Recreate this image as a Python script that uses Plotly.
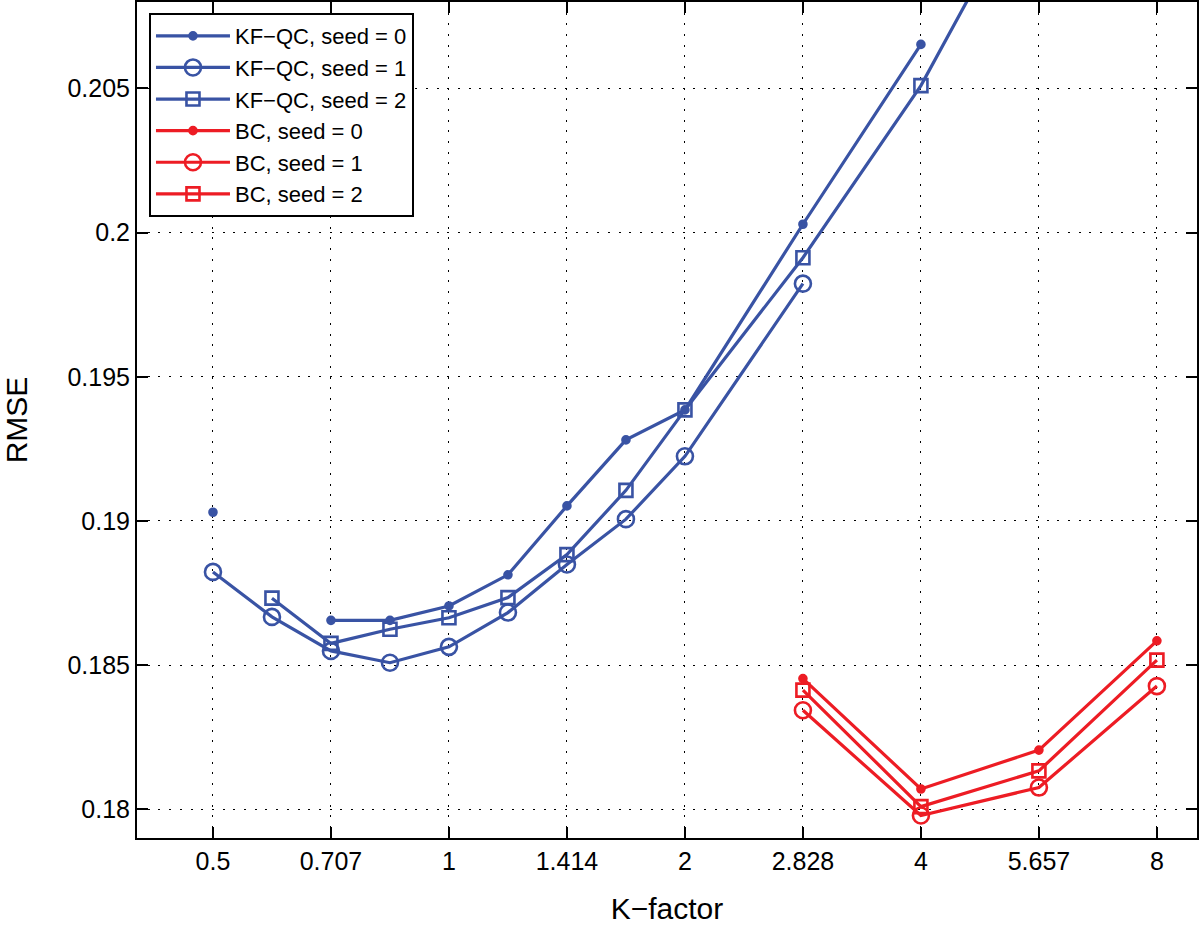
import plotly.graph_objs as go
import math

# K-factor values (half-octave steps)
k_factor = [0.5, 0.5946, 0.7071, 0.8409, 1.0, 1.1892, 1.4142, 1.6818, 2.0,
            2.8284, 4.0, 5.6569, 8.0]

x_tickvals = [0.5, 0.7071, 1.0, 1.4142, 2.0, 2.8284, 4.0, 5.6569, 8.0]
x_ticktext = ['0.5', '0.707', '1', '1.414', '2', '2.828', '4', '5.657', '8']
y_tickvals = [0.18, 0.185, 0.19, 0.195, 0.2, 0.205]
y_ticktext = ['0.18', '0.185', '0.19', '0.195', '0.2', '0.205']

# KF-QC results
kf_seed0 = [0.1903, None, 0.18655, 0.18655, 0.18705, 0.18813, 0.19052, 0.19281,
            0.19385, 0.20029, 0.20653, None, None]
kf_seed1 = [0.18823, 0.18667, 0.18549, 0.18508, 0.18563, 0.18682, 0.18849, 0.19006,
            0.19224, 0.19823, None, None, None]
kf_seed2 = [None, 0.18732, 0.18575, 0.18624, 0.18664, 0.18734, 0.18883, 0.19106,
            0.19385, 0.19913, 0.2051, 0.2126, None]

# BC results
bc_seed0 = [None] * 9 + [0.18453, 0.18070, 0.18205, 0.18584]
bc_seed1 = [None] * 9 + [0.18343, 0.17978, 0.18075, 0.18427]
bc_seed2 = [None] * 9 + [0.18413, 0.18009, 0.18133, 0.18517]

blue = '#3953A4'
red = '#ED1C24'

markers = {
    0: dict(symbol='circle', size=7),
    1: dict(symbol='circle-open', size=16),
    2: dict(symbol='square-open', size=13),
}


def make_trace(y, name, color, seed):
    m = dict(markers[seed])
    m['color'] = color
    m['line'] = dict(width=2.6, color=color)
    return go.Scatter(x=k_factor, y=y, name=name, mode='lines+markers',
                      line=dict(color=color, width=3.2), marker=m,
                      connectgaps=False)


data = [make_trace(kf_seed0, 'KF\u2212QC, seed = 0', blue, 0),
        make_trace(kf_seed1, 'KF\u2212QC, seed = 1', blue, 1),
        make_trace(kf_seed2, 'KF\u2212QC, seed = 2', blue, 2),
        make_trace(bc_seed0, 'BC, seed = 0', red, 0),
        make_trace(bc_seed1, 'BC, seed = 1', red, 1),
        make_trace(bc_seed2, 'BC, seed = 2', red, 2)]

axis_style = dict(showline=True, linecolor='black', linewidth=2, mirror='ticks',
                  ticks='inside', ticklen=11, tickwidth=2, tickcolor='black',
                  showgrid=True, gridcolor='black', gridwidth=1.4,
                  griddash='2px,8.7px', zeroline=False, automargin=False,
                  tickfont=dict(size=25, color='black'))

layout = go.Layout(
    width=1200, height=935,
    margin=dict(l=137, r=3, t=2, b=97),
    paper_bgcolor='white', plot_bgcolor='white',
    font=dict(family='Liberation Sans, Arial, sans-serif', color='black'),
    xaxis=dict(type='log', range=[math.log10(0.4), math.log10(9)],
               tickvals=x_tickvals, ticktext=x_ticktext,
               title=dict(text='K\u2212factor', font=dict(size=30), standoff=24),
               **axis_style),
    yaxis=dict(range=[0.179, 0.208], tickvals=y_tickvals, ticktext=y_ticktext,
               title=dict(text='RMSE', font=dict(size=30), standoff=40),
               **axis_style),
    legend=dict(x=0.0113, y=0.9868, xanchor='left', yanchor='top',
                bgcolor='white', bordercolor='black', borderwidth=2,
                font=dict(size=22, color='black'), itemwidth=74,
                tracegroupgap=0),
    showlegend=True,
)

fig = go.Figure(data=data, layout=layout)
fig.write_html("out.html", config={'displayModeBar': False},
               post_script="document.body.style.margin='0';")
